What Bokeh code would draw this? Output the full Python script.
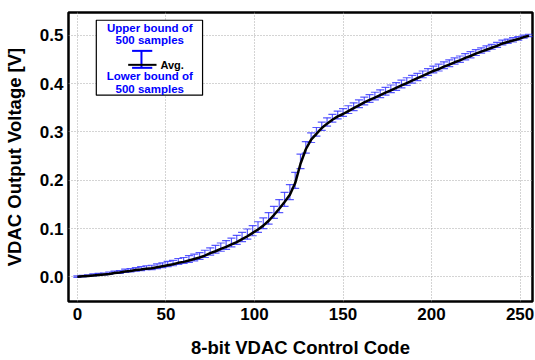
from bokeh.plotting import figure
from bokeh.models import (ColumnDataSource, Whisker, TeeHead, FixedTicker,
                          PrintfTickFormatter, Range1d)
from bokeh.core.properties import value
from bokeh.embed import file_html
from bokeh.resources import INLINE

# ---------------- data ----------------
codes = list(range(0, 256, 3))
avg_v = [0.000, 0.001, 0.002, 0.003, 0.004, 0.005, 0.006, 0.008, 0.009, 0.011, 0.012,
         0.014, 0.015, 0.017, 0.018, 0.020, 0.022, 0.024, 0.026, 0.029, 0.031,
         0.034, 0.037, 0.040, 0.044, 0.049, 0.053, 0.058, 0.062, 0.067, 0.072,
         0.078, 0.084, 0.091, 0.098, 0.106, 0.116, 0.128, 0.141, 0.155, 0.170,
         0.194, 0.234, 0.264, 0.284, 0.296, 0.308, 0.317, 0.325, 0.332, 0.337,
         0.343, 0.349, 0.355, 0.361, 0.366, 0.371, 0.376, 0.381, 0.386, 0.391,
         0.396, 0.401, 0.406, 0.411, 0.416, 0.421, 0.426, 0.430, 0.435, 0.439,
         0.444, 0.448, 0.453, 0.457, 0.462, 0.466, 0.470, 0.474, 0.478, 0.483,
         0.486, 0.489, 0.492, 0.496, 0.499]
err_up = [0.002, 0.002, 0.002, 0.003, 0.003, 0.003, 0.004, 0.004, 0.004, 0.005, 0.005,
          0.005, 0.006, 0.006, 0.006, 0.007, 0.007, 0.008, 0.008, 0.009, 0.009,
          0.010, 0.010, 0.010, 0.011, 0.011, 0.012, 0.012, 0.013, 0.013, 0.014,
          0.014, 0.015, 0.015, 0.016, 0.016, 0.017, 0.018, 0.019, 0.020, 0.021,
          0.022, 0.020, 0.016, 0.014, 0.013, 0.012, 0.012, 0.011, 0.011, 0.011,
          0.011, 0.011, 0.011, 0.011, 0.011, 0.011, 0.011, 0.011, 0.011, 0.011,
          0.011, 0.011, 0.011, 0.010, 0.010, 0.010, 0.010, 0.010, 0.010, 0.010,
          0.009, 0.009, 0.009, 0.009, 0.008, 0.008, 0.008, 0.007, 0.007, 0.007,
          0.006, 0.006, 0.005, 0.004, 0.003]
err_dn = [0.001, 0.001, 0.001, 0.001, 0.001, 0.001, 0.001, 0.001, 0.002, 0.002, 0.002,
          0.002, 0.002, 0.002, 0.003, 0.003, 0.003, 0.003, 0.003, 0.003, 0.003,
          0.004, 0.004, 0.004, 0.004, 0.004, 0.004, 0.005, 0.005, 0.005, 0.005,
          0.005, 0.006, 0.006, 0.006, 0.006, 0.007, 0.007, 0.008, 0.009, 0.010,
          0.011, 0.010, 0.008, 0.006, 0.005, 0.005, 0.005, 0.005, 0.005, 0.005,
          0.005, 0.005, 0.005, 0.005, 0.005, 0.005, 0.005, 0.005, 0.005, 0.005,
          0.005, 0.005, 0.005, 0.005, 0.004, 0.004, 0.004, 0.004, 0.004, 0.004,
          0.004, 0.004, 0.004, 0.004, 0.004, 0.003, 0.003, 0.003, 0.003, 0.003,
          0.003, 0.003, 0.002, 0.002, 0.002]
x_ticks = [0, 50, 100, 150, 200, 250]
y_ticks = [0.0, 0.1, 0.2, 0.3, 0.4, 0.5]
x_label = "8-bit VDAC Control Code"
y_label = "VDAC Output Voltage [V]"
legend_upper = ["Upper bound of", "500 samples"]
legend_lower = ["Lower bound of", "500 samples"]
legend_avg = "Avg."

upper = [a + u for a, u in zip(avg_v, err_up)]
lower = [a - d for a, d in zip(avg_v, err_dn)]
src = ColumnDataSource(dict(code=codes, avg=avg_v, upper=upper, lower=lower))

FONT = "Liberation Sans"
BLUE = "#0000ff"
EB = "#3030ff"

p = figure(width=535, height=360, output_backend="svg", toolbar_location=None,
           x_range=Range1d(-5, 257), y_range=Range1d(-0.051, 0.547),
           min_border_left=68, min_border_right=3, min_border_top=12, min_border_bottom=58)
p.background_fill_color = "white"
p.border_fill_color = "white"
p.outline_line_color = "black"
p.outline_line_alpha = 1.0
p.outline_line_width = 2.5

for ax in (p.xaxis[0], p.yaxis[0]):
    ax.axis_line_color = None
    ax.major_tick_out = 0
    ax.major_tick_in = 0
    ax.minor_tick_line_color = None
    ax.major_label_text_font = FONT
    ax.major_label_text_font_style = "bold"
    ax.major_label_text_font_size = "17px"
    ax.major_label_text_color = "black"
    ax.axis_label_text_font = FONT
    ax.axis_label_text_font_style = "bold"
    ax.axis_label_text_font_size = "18.5px"
    ax.axis_label_text_color = "black"

p.xaxis.ticker = FixedTicker(ticks=x_ticks)
p.yaxis.ticker = FixedTicker(ticks=y_ticks)
p.yaxis.formatter = PrintfTickFormatter(format="%.1f")
p.xaxis.axis_label = x_label
p.yaxis.axis_label = y_label
p.xaxis.major_label_standoff = 6
p.yaxis.major_label_standoff = 5
p.xaxis.axis_label_standoff = 14
p.yaxis.axis_label_standoff = 12

for g in (p.xgrid[0], p.ygrid[0]):
    g.grid_line_color = "#a8a8a8"
    g.grid_line_dash = "1 2"
    g.grid_line_width = 1
p.xgrid.ticker = FixedTicker(ticks=x_ticks)
p.ygrid.ticker = FixedTicker(ticks=y_ticks)

# error bars
wh = Whisker(source=src, base="code", upper="upper", lower="lower", dimension="height",
             line_color=EB, line_alpha=0.8, line_width=1.2,
             upper_head=TeeHead(size=8, line_color=EB, line_alpha=0.8, line_width=1.2),
             lower_head=TeeHead(size=8, line_color=EB, line_alpha=0.8, line_width=1.2),
             level="glyph")
p.add_layout(wh)

# average line
avg_r = p.line("code", "avg", source=src, line_color="black", line_width=2.5)
avg_r.level = "annotation"

# legend (hand-made, data coordinates), all glyph renderers in draw order
legend_rs = []
legend_rs.append(p.quad(left=[10.7], right=[70.7], top=[0.531], bottom=[0.376],
                        fill_color="white", fill_alpha=1.0,
                        line_color="black", line_width=1.2))
legend_rs.append(p.text(x=[40.9] * 4, y=[0.515, 0.490, 0.415, 0.388],
                        text=legend_upper + legend_lower,
                        text_align="center", text_baseline="middle",
                        text_font=value(FONT), text_font_style="bold",
                        text_font_size="11.5px", text_color=BLUE))
legend_rs.append(p.text(x=[46.9], y=[0.4387], text=[legend_avg],
                        text_align="left", text_baseline="middle",
                        text_font=value(FONT), text_font_style="bold",
                        text_font_size="11px", text_color="black"))
legend_rs.append(p.segment(x0=[36.2], y0=[0.4325], x1=[36.2], y1=[0.4676],
                           line_color=BLUE, line_width=2))
legend_rs.append(p.segment(x0=[30.9, 30.9], y0=[0.4325, 0.4676], x1=[42.3, 42.3],
                           y1=[0.4325, 0.4676], line_color=BLUE, line_width=2))
legend_rs.append(p.segment(x0=[28.7], y0=[0.4387], x1=[44.7], y1=[0.4387],
                           line_color="black", line_width=2))
for r in legend_rs:
    r.level = "overlay"

open("out.html", "w").write(file_html(p, INLINE))
